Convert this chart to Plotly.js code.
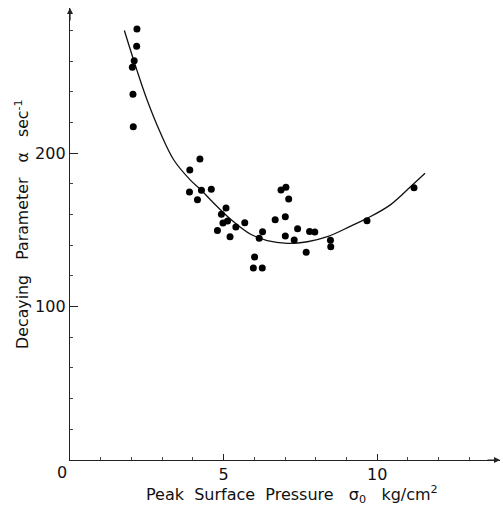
<!DOCTYPE html>
<html><head><meta charset="utf-8">
<script src="https://cdn.plot.ly/plotly-3.0.1.min.js"></script>
<style>html,body{margin:0;padding:0;background:#fff;}#chart{width:503px;height:507px;}</style>
</head><body><div id="chart"></div>
<script>
// measured points: peak surface pressure (kg/cm^2) and decaying parameter (1/sec)
var pressure = [2.18, 2.17, 2.09, 2.03, 2.05, 2.06, 4.23, 3.90, 3.89, 4.28, 4.60, 4.15,
  4.93, 5.08, 4.98, 5.13, 4.80, 5.40, 5.69, 5.21, 6.01, 5.97, 6.26, 6.16, 6.27, 6.68,
  6.87, 7.03, 7.12, 7.01, 7.01, 7.30, 7.41, 7.69, 7.80, 7.97, 8.48, 8.49, 9.67, 11.2];
var alpha = [281, 269.7, 260.3, 256, 238.4, 217.3, 196.2, 189.0, 174.7, 175.8, 176.5, 169.7,
  160.2, 164.3, 154.5, 155.8, 149.7, 151.9, 154.7, 145.6, 132.3, 125.2, 125.2, 144.5, 148.8, 156.7,
  176.0, 177.8, 170.1, 158.6, 146.0, 143.4, 150.8, 135.4, 149.0, 148.6, 143.2, 139.1, 156.0, 177.5];
// fitted curve
var curveX = [1.77, 2.18, 2.51, 2.95, 3.38, 3.92, 4.28, 4.58, 5.23, 5.88, 6.42, 7.07, 7.73, 8.38, 9.14, 9.67, 10.44, 11.2, 11.56];
var curveY = [280, 254, 234.7, 213, 195.6, 182.5, 175.8, 169.5, 157.0, 147.2, 143, 141.3, 142.3, 145.6, 152.5, 157.5, 166.5, 180.3, 186.9];
var xTicks = [5, 10];
var xTickText = ['5', '10'];
var yTicks = [100, 200];
var yTickText = ['100', '200'];

var fam = 'DejaVu Sans, Liberation Sans, sans-serif';
var tickFont = {family: fam, size: 16, color: '#111'};
var xTitleFont = {family: fam, size: 16, color: '#111'};
var yTitleFont = {family: fam, size: 15.8, color: '#111'};
var sp2 = '\u00a0\u00a0', sp3 = '\u00a0\u00a0\u00a0';
var xTitle = 'Peak' + sp2 + 'Surface' + sp2 + 'Pressure' + sp3 + '\u03c3<sub>0</sub>' + sp3 + 'kg/cm<sup>2</sup>';
var yTitle = 'Decaying' + sp3 + 'Parameter' + sp3 + '\u03b1' + sp3 + 'sec<sup>-1</sup>';
var traces = [
  {x: curveX, y: curveY, mode: 'lines', line: {color: '#111', width: 1.3, shape: 'spline', smoothing: 1}, hoverinfo: 'skip'},
  {x: pressure, y: alpha, mode: 'markers', marker: {color: '#000', size: 7}}
];
var layout = {
  width: 503, height: 507,
  margin: {l: 70, r: 3, t: 8, b: 47},
  showlegend: false,
  paper_bgcolor: '#fff', plot_bgcolor: '#fff',
  font: tickFont,
  xaxis: {
    range: [0, 14.0], showgrid: false, zeroline: false,
    showline: true, linecolor: '#222', linewidth: 1.2,
    tickmode: 'array', tickvals: xTicks, ticktext: xTickText,
    ticks: 'inside', ticklen: 6, tickcolor: '#222', tickwidth: 1,
    minor: {dtick: 1, tick0: 0, ticks: 'inside', ticklen: 3, tickcolor: '#444', showgrid: false},
    tickfont: tickFont
  },
  yaxis: {
    range: [0, 294.7], showgrid: false, zeroline: false,
    showline: true, linecolor: '#222', linewidth: 1.2,
    tickmode: 'array', tickvals: yTicks, ticktext: yTickText,
    ticks: 'inside', ticklen: 8, tickcolor: '#222', tickwidth: 1,
    minor: {dtick: 20, tick0: 0, ticks: 'inside', ticklen: 3, tickcolor: '#444', showgrid: false},
    tickfont: tickFont
  },
  annotations: [
    {xref: 'paper', yref: 'paper', x: 0.517, y: -0.077, xanchor: 'center', yanchor: 'middle', text: xTitle, showarrow: false, font: xTitleFont},
    {xref: 'paper', yref: 'paper', x: -0.112, y: 0.522, xanchor: 'center', yanchor: 'middle', textangle: -90, text: yTitle, showarrow: false, font: yTitleFont},
    {x: 0, y: 0, xref: 'x', yref: 'y', text: '0', showarrow: false, xshift: -8, yshift: -12, font: tickFont},
    {x: 0, y: 1, xref: 'x', yref: 'paper', ax: 0, ay: 14, axref: 'pixel', ayref: 'pixel', showarrow: true, arrowhead: 2, arrowsize: 1, arrowwidth: 1.2, arrowcolor: '#222', text: ''},
    {x: 1, y: 0, xref: 'paper', yref: 'y', ax: -14, ay: 0, showarrow: true, arrowhead: 2, arrowsize: 1, arrowwidth: 1.2, arrowcolor: '#222', text: ''}
  ]
};
Plotly.newPlot('chart', traces, layout, {staticPlot: true, displayModeBar: false});
</script></body></html>
